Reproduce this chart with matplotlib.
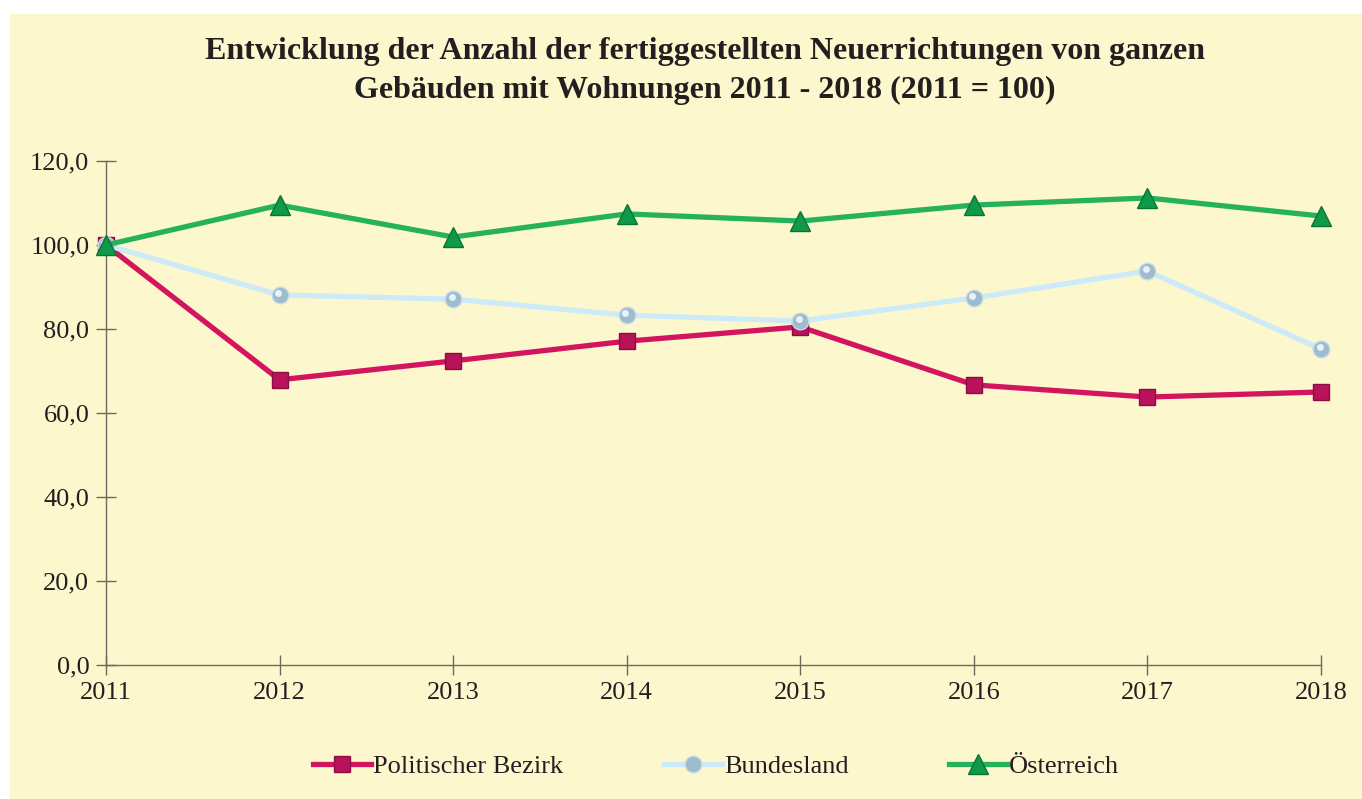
import matplotlib
matplotlib.use("Agg")
import matplotlib.pyplot as plt
from matplotlib.patches import Rectangle
from matplotlib.ticker import FuncFormatter
from matplotlib.transforms import ScaledTranslation

# Index values (2011 = 100)
years = ["2011", "2012", "2013", "2014", "2015", "2016", "2017", "2018"]
bezirk = [100.0, 67.9, 72.4, 77.1, 80.5, 66.7, 63.8, 65.0]
bundesland = [100.0, 88.1, 87.1, 83.3, 81.9, 87.4, 93.8, 75.2]
oesterreich = [100.0, 109.5, 101.9, 107.4, 105.7, 109.5, 111.2, 106.9]
series_names = ["Politischer Bezirk", "Bundesland", "Österreich"]
y_ticks = [0, 20, 40, 60, 80, 100, 120]

plt.rcParams["font.family"] = ["Liberation Serif", "DejaVu Serif"]

W, H = 1362, 799
fig = plt.figure(figsize=(W / 100, H / 100), dpi=100, facecolor="white")

# cream panel behind the whole chart
fig.patches.append(Rectangle((10 / W, 0), 1 - 10 / W, 1 - 14 / H,
                             transform=fig.transFigure, facecolor="#FDF7CE",
                             edgecolor="none", zorder=-10))

ax = fig.add_axes([106 / W, 1 - 665 / H, (1321 - 106) / W, (665 - 161) / H])
ax.set_facecolor("none")

x = list(range(len(years)))

l1, = ax.plot(x, bezirk, color="#D3145E", lw=3.8, marker="s", ms=12,
              mfc="#B8135A", mec="#8A0E43", mew=1.0, zorder=3, clip_on=False)
l2, = ax.plot(x, bundesland, color="#CDEAF8", lw=3.8, marker="o", ms=12,
              mfc="#9FBBCE", mec="#C9DCE8", mew=1.0, zorder=4, clip_on=False)
# highlight on the spheres
ax.plot(x, bundesland, ls="none", marker="o", ms=5, mfc="#E8F2F8", mec="none",
        zorder=5, clip_on=False,
        transform=ax.transData + ScaledTranslation(-1.5 / 100, 2 / 100, fig.dpi_scale_trans))
l3, = ax.plot(x, oesterreich, color="#25B25B", lw=3.8, marker="^", ms=14,
              mfc="#109A48", mec="#0A7436", mew=1.0, zorder=6, clip_on=False)

ax.set_xlim(0, len(years) - 1)
ax.set_ylim(0, 120)
ax.set_xticks(x)
ax.set_xticklabels(years)
ax.set_yticks(y_ticks)
ax.yaxis.set_major_formatter(FuncFormatter(lambda v, p: f"{v:.1f}".replace(".", ",")))

for s in ("top", "right"):
    ax.spines[s].set_visible(False)
for s in ("left", "bottom"):
    ax.spines[s].set_color("#6E6A60")
    ax.spines[s].set_linewidth(1.0)
ax.tick_params(axis="both", direction="inout", length=14, width=1.0,
               color="#6E6A60", labelsize=19, labelcolor="#231F20")
ax.tick_params(axis="y", pad=5)
ax.tick_params(axis="x", pad=5)

fig.text(705 / W, 1 - 71 / H,
         "Entwicklung der Anzahl der fertiggestellten Neuerrichtungen von ganzen\n"
         "Gebäuden mit Wohnungen 2011 - 2018 (2011 = 100)",
         ha="center", va="center", fontsize=23, fontweight="bold",
         color="#231F20", linespacing=1.42)

fig.legend([l1, l2, l3], series_names, loc="center", ncol=3,
           bbox_to_anchor=(716 / W, 1 - 766 / H), frameon=False,
           fontsize=19, handlelength=2.2, handletextpad=0.08,
           columnspacing=3.8, labelcolor="#231F20")

fig.savefig("out.png", dpi=100, facecolor="white")
